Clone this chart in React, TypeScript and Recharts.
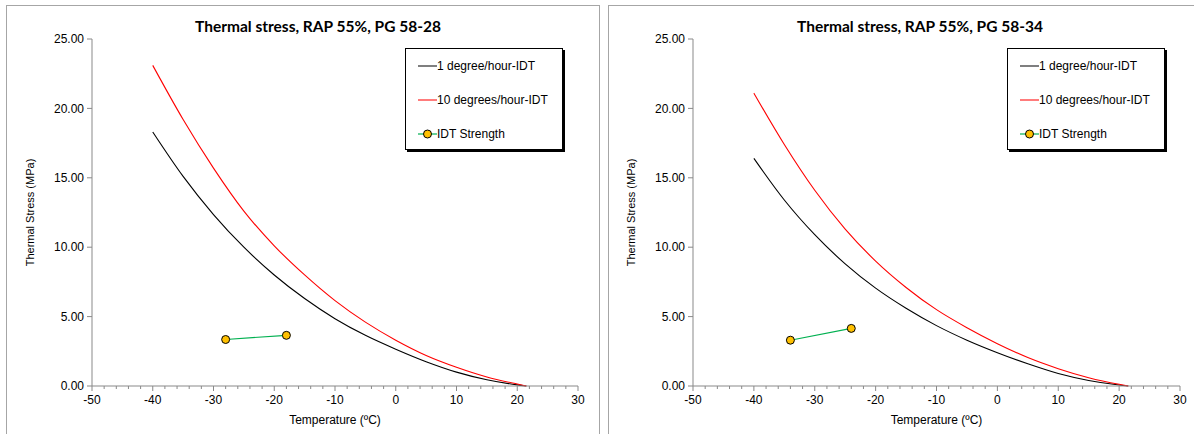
import React from "react";
import { LineChart, Line, XAxis, YAxis } from "recharts";

// temperatures (ºC) at which the thermal stress curves were evaluated
const curveTemps = [-40, -35, -30, -25, -20, -15, -10, -5, 0, 5, 10, 15, 20, 21.5];

// PG 58-28
const stressSlow5828 = [18.3, 15.1, 12.35, 10.0, 8.0, 6.3, 4.85, 3.65, 2.65, 1.75, 1.0, 0.45, 0.08, 0];
const stressFast5828 = [23.1, 19.2, 15.7, 12.6, 10.1, 8.0, 6.15, 4.6, 3.3, 2.2, 1.35, 0.65, 0.14, 0];
const idtTemps5828 = [-28, -18];
const idtStrength5828 = [3.35, 3.65];

// PG 58-34
const stressSlow5834 = [16.4, 13.4, 10.9, 8.8, 7.05, 5.6, 4.35, 3.3, 2.4, 1.6, 0.9, 0.4, 0.07, 0];
const stressFast5834 = [21.1, 17.4, 14.1, 11.3, 9.0, 7.1, 5.5, 4.2, 3.05, 2.05, 1.25, 0.6, 0.12, 0];
const idtTemps5834 = [-34, -24];
const idtStrength5834 = [3.3, 4.15];

const yTicks = [0, 5, 10, 15, 20, 25];
const xTicks = Array.from({ length: 41 }, (_, i) => -50 + i * 2);

const seriesNames = ["1 degree/hour-IDT", "10 degrees/hour-IDT", "IDT Strength"];

const axisGray = "#898989";
const font = "'Liberation Sans', Arial, sans-serif";

const toPoints = (xs: number[], ys: number[]) => xs.map((t, i) => ({ t, s: ys[i] }));

function XTick(props: any) {
  const { x, y, payload } = props;
  const major = payload.value % 10 === 0;
  return (
    <g>
      <line x1={x} x2={x} y1={y} y2={y + (major ? 5 : 3)} stroke={axisGray} />
      {major && (
        <text x={x} y={y + 18} textAnchor="middle" fontSize={12} fontFamily={font} fill="#000">
          {payload.value}
        </text>
      )}
    </g>
  );
}

function Legend({ left }: { left: number }) {
  const row = (i: number, sample: React.ReactNode) => (
    <div key={i} style={{ position: "absolute", left: 12, top: 9 + i * 34, display: "flex", alignItems: "center", height: 16 }}>
      <svg width={19} height={16}>{sample}</svg>
      <span style={{ fontSize: 12, fontFamily: font, color: "#000" }}>{seriesNames[i]}</span>
    </div>
  );
  return (
    <div
      style={{
        position: "absolute",
        left,
        top: 48,
        width: 156,
        height: 100,
        border: "1px solid #000",
        background: "#fff",
        boxShadow: "2px 2px 0 #000",
      }}
    >
      {row(0, <line x1={0} x2={19} y1={8} y2={8} stroke="#555" strokeWidth={1.5} />)}
      {row(1, <line x1={0} x2={19} y1={8} y2={8} stroke="#ff5050" strokeWidth={1.5} />)}
      {row(
        2,
        <g>
          <line x1={0} x2={19} y1={8} y2={8} stroke="#00b050" strokeWidth={1.2} />
          <circle cx={9.5} cy={8} r={4} fill="#ffc000" stroke="#000" strokeWidth={1} />
        </g>
      )}
    </div>
  );
}

interface PanelProps {
  left: number;
  width: number;
  title: string;
  titleCenter: number;
  slow: number[];
  fast: number[];
  idtT: number[];
  idtS: number[];
  legendLeft: number;
  rightMargin: number;
}

function Panel({ left, width, title, titleCenter, slow, fast, idtT, idtS, legendLeft, rightMargin }: PanelProps) {
  return (
    <div style={{ position: "absolute", left, top: 0, width, height: 434 }}>
      <LineChart width={width} height={434} margin={{ top: 39, right: rightMargin, bottom: 8, left: 0 }}>
        <XAxis
          type="number"
          dataKey="t"
          domain={[-50, 30]}
          ticks={xTicks}
          interval={0}
          allowDataOverflow
          stroke={axisGray}
          tickLine={false}
          tickSize={0}
          tickMargin={0}
          tick={<XTick />}
          height={40}
          label={{
            value: "Temperature (ºC)",
            position: "insideBottom",
            offset: 2,
            style: { fontSize: 12, fontFamily: font, fill: "#000" },
          }}
        />
        <YAxis
          type="number"
          domain={[0, 25]}
          ticks={yTicks}
          interval={0}
          width={92}
          stroke={axisGray}
          tickSize={5}
          tickMargin={3}
          tickFormatter={(v: number) => v.toFixed(2)}
          tick={{ fontSize: 12, fontFamily: font, fill: "#000" }}
          label={{
            value: "Thermal Stress (MPa)",
            angle: -90,
            position: "insideLeft",
            offset: 30,
            style: { fontSize: 11, fontFamily: font, fill: "#000", textAnchor: "middle" },
          }}
        />
        <Line
          data={toPoints(curveTemps, slow)}
          dataKey="s"
          type="monotone"
          stroke="#000"
          strokeWidth={1.1}
          dot={false}
          isAnimationActive={false}
        />
        <Line
          data={toPoints(curveTemps, fast)}
          dataKey="s"
          type="monotone"
          stroke="#ff0000"
          strokeWidth={1.1}
          dot={false}
          isAnimationActive={false}
        />
        <Line
          data={toPoints(idtT, idtS)}
          dataKey="s"
          type="linear"
          stroke="#00b050"
          strokeWidth={1.1}
          dot={{ r: 4, fill: "#ffc000", stroke: "#000", strokeWidth: 1 }}
          isAnimationActive={false}
        />
      </LineChart>
      <div
        style={{
          position: "absolute",
          left: titleCenter - 200,
          width: 400,
          top: 17,
          textAlign: "center",
          fontFamily: "Lato, 'Liberation Sans', sans-serif",
          fontWeight: 700,
          fontSize: 15.5,
          color: "#000",
        }}
      >
        {title}
      </div>
      <Legend left={legendLeft} />
    </div>
  );
}

export default function App() {
  return (
    <div style={{ position: "fixed", left: 0, top: 0, width: 1194, height: 434, overflow: "hidden", background: "#fff" }}>
      <div style={{ position: "absolute", left: 6, top: 5, width: 592, height: 460, border: "1px solid #a6a6a6" }} />
      <div style={{ position: "absolute", left: 608, top: 5, width: 620, height: 460, border: "1px solid #a6a6a6" }} />
      <Panel
        left={0}
        width={600}
        title="Thermal stress, RAP 55%, PG 58-28"
        titleCenter={318}
        slow={stressSlow5828}
        fast={stressFast5828}
        idtT={idtTemps5828}
        idtS={idtStrength5828}
        legendLeft={405}
        rightMargin={22}
      />
      <Panel
        left={601}
        width={593}
        title="Thermal stress, RAP 55%, PG 58-34"
        titleCenter={319}
        slow={stressSlow5834}
        fast={stressFast5834}
        idtT={idtTemps5834}
        idtS={idtStrength5834}
        legendLeft={406}
        rightMargin={14}
      />
    </div>
  );
}
